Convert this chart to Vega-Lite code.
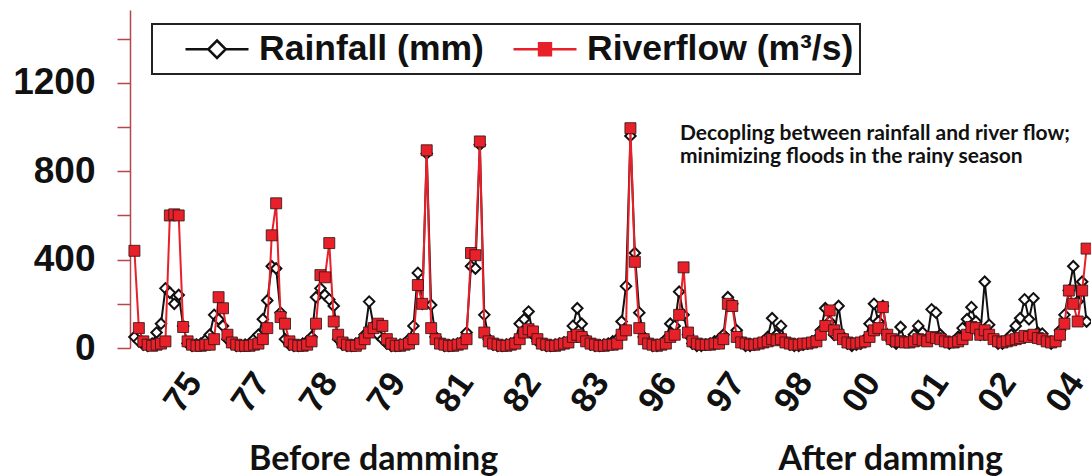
{
  "$schema": "https://vega.github.io/schema/vega-lite/v6.json",
  "width": 961,
  "height": 338,
  "autosize": "none",
  "padding": {"left": 130, "top": 10, "right": 0, "bottom": 128},
  "background": "white",
  "config": {"view": {"stroke": null}, "font": "Liberation Sans"},
  "datasets": {
    "monthly": [
      {"m":1,"rain":50,"flow":440},{"m":2,"rain":30,"flow":90},{"m":3,"rain":15,"flow":30},{"m":4,"rain":10,"flow":15},
      {"m":5,"rain":20,"flow":10},{"m":6,"rain":70,"flow":15},{"m":7,"rain":110,"flow":20},{"m":8,"rain":270,"flow":30},
      {"m":9,"rain":250,"flow":600},{"m":10,"rain":200,"flow":605},{"m":11,"rain":240,"flow":600},{"m":12,"rain":100,"flow":95},
      {"m":13,"rain":20,"flow":30},{"m":14,"rain":10,"flow":15},{"m":15,"rain":15,"flow":10},{"m":16,"rain":20,"flow":10},
      {"m":17,"rain":35,"flow":15},{"m":18,"rain":60,"flow":15},{"m":19,"rain":150,"flow":40},{"m":20,"rain":130,"flow":230},
      {"m":21,"rain":100,"flow":180},{"m":22,"rain":40,"flow":60},{"m":23,"rain":20,"flow":25},{"m":24,"rain":10,"flow":15},
      {"m":25,"rain":10,"flow":10},{"m":26,"rain":15,"flow":10},{"m":27,"rain":20,"flow":10},{"m":28,"rain":40,"flow":15},
      {"m":29,"rain":60,"flow":20},{"m":30,"rain":130,"flow":40},{"m":31,"rain":215,"flow":90},{"m":32,"rain":370,"flow":510},
      {"m":33,"rain":360,"flow":655},{"m":34,"rain":160,"flow":140},{"m":35,"rain":40,"flow":110},{"m":36,"rain":15,"flow":30},
      {"m":37,"rain":10,"flow":15},{"m":38,"rain":10,"flow":10},{"m":39,"rain":20,"flow":10},{"m":40,"rain":30,"flow":15},
      {"m":41,"rain":50,"flow":30},{"m":42,"rain":230,"flow":110},{"m":43,"rain":270,"flow":330},{"m":44,"rain":240,"flow":320},
      {"m":45,"rain":220,"flow":475},{"m":46,"rain":190,"flow":120},{"m":47,"rain":40,"flow":60},{"m":48,"rain":15,"flow":25},
      {"m":49,"rain":10,"flow":15},{"m":50,"rain":10,"flow":10},{"m":51,"rain":20,"flow":10},{"m":52,"rain":30,"flow":20},
      {"m":53,"rain":60,"flow":40},{"m":54,"rain":210,"flow":70},{"m":55,"rain":100,"flow":90},{"m":56,"rain":60,"flow":110},
      {"m":57,"rain":40,"flow":100},{"m":58,"rain":20,"flow":40},{"m":59,"rain":10,"flow":20},{"m":60,"rain":10,"flow":10},
      {"m":61,"rain":15,"flow":10},{"m":62,"rain":20,"flow":15},{"m":63,"rain":40,"flow":20},{"m":64,"rain":100,"flow":40},
      {"m":65,"rain":340,"flow":285},{"m":66,"rain":200,"flow":200},{"m":67,"rain":880,"flow":895},{"m":68,"rain":195,"flow":90},
      {"m":69,"rain":50,"flow":40},{"m":70,"rain":20,"flow":20},{"m":71,"rain":10,"flow":15},{"m":72,"rain":10,"flow":10},
      {"m":73,"rain":15,"flow":10},{"m":74,"rain":20,"flow":15},{"m":75,"rain":30,"flow":20},{"m":76,"rain":70,"flow":40},
      {"m":77,"rain":370,"flow":430},{"m":78,"rain":360,"flow":420},{"m":79,"rain":920,"flow":935},{"m":80,"rain":150,"flow":70},
      {"m":81,"rain":40,"flow":30},{"m":82,"rain":15,"flow":20},{"m":83,"rain":10,"flow":15},{"m":84,"rain":10,"flow":10},
      {"m":85,"rain":15,"flow":10},{"m":86,"rain":20,"flow":15},{"m":87,"rain":30,"flow":20},{"m":88,"rain":110,"flow":40},
      {"m":89,"rain":130,"flow":70},{"m":90,"rain":165,"flow":85},{"m":91,"rain":60,"flow":75},{"m":92,"rain":30,"flow":40},
      {"m":93,"rain":15,"flow":20},{"m":94,"rain":10,"flow":15},{"m":95,"rain":10,"flow":10},{"m":96,"rain":15,"flow":10},
      {"m":97,"rain":20,"flow":15},{"m":98,"rain":25,"flow":20},{"m":99,"rain":30,"flow":25},{"m":100,"rain":100,"flow":50},
      {"m":101,"rain":180,"flow":60},{"m":102,"rain":110,"flow":50},{"m":103,"rain":40,"flow":30},{"m":104,"rain":15,"flow":20},
      {"m":105,"rain":10,"flow":15},{"m":106,"rain":10,"flow":10},{"m":107,"rain":15,"flow":10},{"m":108,"rain":20,"flow":15},
      {"m":109,"rain":30,"flow":15},{"m":110,"rain":40,"flow":20},{"m":111,"rain":120,"flow":60},{"m":112,"rain":280,"flow":80},
      {"m":113,"rain":960,"flow":995},{"m":114,"rain":430,"flow":390},{"m":115,"rain":160,"flow":90},{"m":116,"rain":50,"flow":40},
      {"m":117,"rain":20,"flow":20},{"m":118,"rain":10,"flow":15},{"m":119,"rain":10,"flow":10},{"m":120,"rain":20,"flow":15},
      {"m":121,"rain":40,"flow":20},{"m":122,"rain":110,"flow":50},{"m":123,"rain":100,"flow":60},{"m":124,"rain":255,"flow":150},
      {"m":125,"rain":150,"flow":365},{"m":126,"rain":60,"flow":70},{"m":127,"rain":20,"flow":30},{"m":128,"rain":10,"flow":20},
      {"m":129,"rain":10,"flow":15},{"m":130,"rain":15,"flow":15},{"m":131,"rain":20,"flow":15},{"m":132,"rain":30,"flow":20},
      {"m":133,"rain":40,"flow":20},{"m":134,"rain":60,"flow":40},{"m":135,"rain":230,"flow":200},{"m":136,"rain":200,"flow":190},
      {"m":137,"rain":80,"flow":50},{"m":138,"rain":30,"flow":25},{"m":139,"rain":10,"flow":20},{"m":140,"rain":10,"flow":15},
      {"m":141,"rain":15,"flow":15},{"m":142,"rain":20,"flow":20},{"m":143,"rain":30,"flow":25},{"m":144,"rain":50,"flow":30},
      {"m":145,"rain":135,"flow":40},{"m":146,"rain":60,"flow":35},{"m":147,"rain":100,"flow":40},{"m":148,"rain":30,"flow":25},
      {"m":149,"rain":15,"flow":20},{"m":150,"rain":10,"flow":15},{"m":151,"rain":10,"flow":15},{"m":152,"rain":15,"flow":20},
      {"m":153,"rain":20,"flow":20},{"m":154,"rain":30,"flow":25},{"m":155,"rain":40,"flow":30},{"m":156,"rain":80,"flow":60},
      {"m":157,"rain":180,"flow":100},{"m":158,"rain":120,"flow":170},{"m":159,"rain":60,"flow":80},{"m":160,"rain":190,"flow":60},
      {"m":161,"rain":50,"flow":40},{"m":162,"rain":20,"flow":25},{"m":163,"rain":10,"flow":20},{"m":164,"rain":15,"flow":20},
      {"m":165,"rain":20,"flow":25},{"m":166,"rain":40,"flow":30},{"m":167,"rain":110,"flow":50},{"m":168,"rain":200,"flow":80},
      {"m":169,"rain":120,"flow":90},{"m":170,"rain":190,"flow":185},{"m":171,"rain":60,"flow":60},{"m":172,"rain":30,"flow":40},
      {"m":173,"rain":20,"flow":30},{"m":174,"rain":95,"flow":30},{"m":175,"rain":30,"flow":25},{"m":176,"rain":30,"flow":25},
      {"m":177,"rain":60,"flow":30},{"m":178,"rain":100,"flow":40},{"m":179,"rain":70,"flow":35},{"m":180,"rain":40,"flow":30},
      {"m":181,"rain":175,"flow":50},{"m":182,"rain":160,"flow":45},{"m":183,"rain":60,"flow":40},{"m":184,"rain":30,"flow":30},
      {"m":185,"rain":20,"flow":25},{"m":186,"rain":30,"flow":25},{"m":187,"rain":50,"flow":30},{"m":188,"rain":90,"flow":40},
      {"m":189,"rain":130,"flow":60},{"m":190,"rain":185,"flow":95},{"m":191,"rain":120,"flow":90},{"m":192,"rain":60,"flow":60},
      {"m":193,"rain":300,"flow":80},{"m":194,"rain":105,"flow":60},{"m":195,"rain":40,"flow":40},{"m":196,"rain":20,"flow":30},
      {"m":197,"rain":20,"flow":25},{"m":198,"rain":40,"flow":30},{"m":199,"rain":60,"flow":35},{"m":200,"rain":100,"flow":40},
      {"m":201,"rain":135,"flow":45},{"m":202,"rain":220,"flow":55},{"m":203,"rain":130,"flow":50},{"m":204,"rain":225,"flow":60},
      {"m":205,"rain":70,"flow":45},{"m":206,"rain":65,"flow":40},{"m":207,"rain":30,"flow":30},{"m":208,"rain":20,"flow":25},
      {"m":209,"rain":30,"flow":30},{"m":210,"rain":80,"flow":60},{"m":211,"rain":150,"flow":110},{"m":212,"rain":260,"flow":260},
      {"m":213,"rain":370,"flow":200},{"m":214,"rain":210,"flow":120},{"m":215,"rain":300,"flow":260},{"m":216,"rain":120,"flow":450}
    ],
    "notes": [
      {"m": 124.2, "v": 941, "t": "Decopling between rainfall and river flow;\nminimizing floods in the rainy season"}
    ],
    "periods": [
      {"m": 55, "v": -552, "t": "Before damming"},
      {"m": 171.8, "v": -552, "t": "After damming"}
    ]
  },
  "layer": [
    {
      "data": {"name": "monthly"},
      "mark": {"type": "line", "strokeWidth": 2},
      "encoding": {
        "x": {
          "field": "m", "type": "quantitative",
          "scale": {"domain": [0, 217], "nice": false, "zero": false},
          "axis": {
            "title": null, "domain": false, "ticks": false, "tickSize": 0, "grid": false,
            "values": [14.4, 29.72, 45.04, 60.36, 75.68, 91.0, 106.32, 121.64, 136.96, 152.28, 167.6, 182.92, 198.24, 213.56],
            "labelExpr": "['75','77','78','79','81','82','83','96','97','98','00','01','02','04'][round((datum.value - 14.4) / 15.32)]",
            "labelAngle": -55, "labelAlign": "right", "labelBaseline": "middle",
            "labelFont": "Liberation Sans", "labelFontSize": 35, "labelFontWeight": "bold",
            "labelColor": "#111", "labelPadding": 28, "labelOverlap": false, "labelFlush": false, "labelBound": false
          }
        },
        "y": {
          "field": "rain", "type": "quantitative",
          "scale": {"domain": [0, 1530], "nice": false},
          "axis": {
            "title": null, "grid": false,
            "values": [0, 200, 400, 600, 800, 1000, 1200, 1400],
            "format": "d",
            "labelExpr": "datum.value % 400 === 0 ? datum.label : ''",
            "domainColor": "#b5474b", "domainWidth": 1.5,
            "tickColor": "#b5474b", "tickWidth": 1.5, "tickSize": 13,
            "labelFont": "Liberation Sans", "labelFontSize": 37, "labelFontWeight": "bold",
            "labelColor": "#111", "labelPadding": 22
          }
        },
        "color": {
          "datum": "Rainfall (mm)",
          "scale": {"domain": ["Rainfall (mm)", "Riverflow (m³/s)"], "range": ["#111111", "#e8202a"]},
          "legend": {
            "title": null, "orient": "none", "legendX": 22, "legendY": 14, "direction": "horizontal",
            "strokeColor": "#222", "padding": 6, "symbolOffset": 40, "symbolSize": 1225, "symbolStrokeWidth": 2.5,
            "labelFont": "Liberation Sans", "labelFontSize": 35.5, "labelFontWeight": "bold", "labelColor": "#111",
            "labelOffset": 23, "columnPadding": 2, "labelLimit": 500,
            "encode": {
              "symbols": {"update": {
                "shape": {"signal": "datum.value === 'Rainfall (mm)' ? 'M-1.8,0H-0.5M0.5,0H1.8M0,-0.5L0.5,0L0,0.5L-0.5,0Z' : 'M-1.8,0H1.8M-0.34,-0.34H0.34V0.34H-0.34Z'"},
                "fill": {"signal": "datum.value === 'Rainfall (mm)' ? '#ffffff' : '#e8202a'"},
                "stroke": {"signal": "datum.value === 'Rainfall (mm)' ? '#111111' : '#e8202a'"},
                "strokeWidth": {"value": 2.5},
                "size": {"value": 1225},
                "opacity": {"value": 1}
              }},
              "legend": {"update": {"strokeWidth": {"value": 2}}}
            }
          }
        }
      }
    },
    {
      "data": {"name": "monthly"},
      "mark": {"type": "point", "shape": "diamond", "size": 110, "fill": "#ffffff", "stroke": "#111111", "strokeWidth": 2, "opacity": 1, "filled": false},
      "encoding": {
        "x": {"field": "m", "type": "quantitative"},
        "y": {"field": "rain", "type": "quantitative", "title": null}
      }
    },
    {
      "data": {"name": "monthly"},
      "mark": {"type": "line", "strokeWidth": 2},
      "encoding": {
        "x": {"field": "m", "type": "quantitative"},
        "y": {"field": "flow", "type": "quantitative", "title": null},
        "color": {"datum": "Riverflow (m³/s)"}
      }
    },
    {
      "data": {"name": "monthly"},
      "mark": {"type": "square", "size": 121, "fill": "#e8202a", "stroke": "#2a1414", "strokeWidth": 0.8, "opacity": 1},
      "encoding": {
        "x": {"field": "m", "type": "quantitative"},
        "y": {"field": "flow", "type": "quantitative", "title": null}
      }
    },
    {
      "data": {"name": "notes"},
      "mark": {"type": "text", "align": "left", "baseline": "alphabetic", "lineBreak": "\n", "lineHeight": 23, "font": "Lato", "fontWeight": "bold", "fontSize": 21, "color": "#111"},
      "encoding": {
        "x": {"field": "m", "type": "quantitative"},
        "y": {"field": "v", "type": "quantitative", "title": null},
        "text": {"field": "t"}
      }
    },
    {
      "data": {"name": "periods"},
      "mark": {"type": "text", "align": "center", "baseline": "alphabetic", "font": "Lato", "fontWeight": "bold", "fontSize": 34, "color": "#111"},
      "encoding": {
        "x": {"field": "m", "type": "quantitative"},
        "y": {"field": "v", "type": "quantitative", "title": null},
        "text": {"field": "t"}
      }
    }
  ]
}
